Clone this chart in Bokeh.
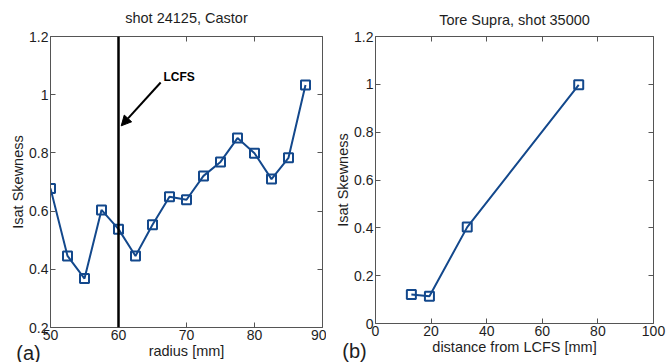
from bokeh.plotting import figure
from bokeh.layouts import row
from bokeh.models import (Range1d, LinearAxis, FixedTicker, CustomJSTickFormatter,
                          CustomLabelingPolicy, Span, Arrow, NormalHead, Label)
from bokeh.embed import file_html
from bokeh.resources import INLINE

# Castor, shot 24125: skewness of Isat versus probe radius
radius_mm = [50, 52.5, 55, 57.5, 60, 62.5, 65, 67.5, 70, 72.5, 75, 77.5, 80, 82.5, 85, 87.5]
castor_skew = [0.678, 0.446, 0.368, 0.604, 0.538, 0.446, 0.553, 0.649, 0.639,
               0.721, 0.769, 0.851, 0.799, 0.710, 0.783, 1.033]
lcfs_radius = 60

# Tore Supra, shot 35000: skewness versus distance from the LCFS
dist_mm = [12.9, 19.4, 33.0, 73.1]
ts_skew = [0.121, 0.114, 0.403, 0.998]

castor_xticks = [50, 60, 70, 80, 90]
castor_yticks = [0.2, 0.4, 0.6, 0.8, 1.0, 1.2]
ts_xticks = [0, 20, 40, 60, 80, 100]
ts_yticks = [0, 0.2, 0.4, 0.6, 0.8, 1.0, 1.2]

FONT = "Liberation Sans"
BLUE = "#13488c"
SPINE = "#555555"
TXT = "#1e1e1e"

yfmt = CustomJSTickFormatter(code="return (Math.round(tick*10)/10).toString();")
# mirrored axes carry ticks only
no_labels = CustomLabelingPolicy(code="""
    for (const i of indices) { indices.unset(i) }
    return indices
""")


def style_axis(ax, labels=True):
    ax.axis_line_color = SPINE
    ax.major_tick_line_color = SPINE
    ax.major_tick_in = 5
    ax.major_tick_out = 0
    ax.minor_tick_line_color = None
    ax.axis_label_text_font = FONT
    ax.axis_label_text_font_style = "normal"
    ax.axis_label_text_font_size = "14.5px"
    ax.axis_label_text_color = TXT
    ax.major_label_text_font = FONT
    ax.major_label_text_color = TXT
    if labels:
        ax.major_label_text_font_size = "14px"
        ax.major_label_standoff = 2
    else:
        ax.major_label_text_font_size = "1px"
        ax.major_label_standoff = 0
        ax.major_label_policy = no_labels
        ax.axis_label = None


def make_panel(title, xr, yr, xticks, yticks, xlabel, frame, border, title_standoff):
    p = figure(output_backend="svg", toolbar_location=None,
               x_range=Range1d(*xr), y_range=Range1d(*yr),
               frame_width=frame[0], frame_height=frame[1],
               min_border_left=border[0], min_border_right=border[1],
               min_border_top=border[2], min_border_bottom=border[3])
    p.title.text = title
    p.title.align = "center"
    p.title.text_font = FONT
    p.title.text_font_style = "normal"
    p.title.text_font_size = "14.5px"
    p.title.text_color = TXT
    p.title.standoff = title_standoff
    p.grid.visible = False
    p.outline_line_color = None
    p.background_fill_color = "white"
    p.border_fill_color = "white"

    p.xaxis.ticker = FixedTicker(ticks=xticks)
    p.yaxis.ticker = FixedTicker(ticks=yticks)
    p.yaxis.formatter = yfmt
    p.xaxis.axis_label = xlabel
    p.yaxis.axis_label = "Isat Skewness"
    p.xaxis.axis_label_standoff = 0
    p.yaxis.axis_label_standoff = 0
    style_axis(p.xaxis[0])
    style_axis(p.yaxis[0])

    top = LinearAxis(ticker=FixedTicker(ticks=xticks))
    right = LinearAxis(ticker=FixedTicker(ticks=yticks))
    style_axis(top, labels=False)
    style_axis(right, labels=False)
    p.add_layout(top, "above")
    p.add_layout(right, "right")
    return p


def panel_tag(text, dx, dy):
    # lives in the bottom side panel so it is not clipped to the plot frame;
    # offsets are measured from the panel's left edge and the canvas bottom
    return Label(x=dx, y=dy, x_units="screen", y_units="screen", text=text,
                 text_font=FONT, text_font_size="20px", text_align="center",
                 text_baseline="middle", text_color=TXT)


# (a) Castor
pa = make_panel("shot 24125, Castor", (50, 90), (0.2, 1.2), castor_xticks, castor_yticks,
                "radius [mm]", frame=(272, 291), border=(50, 0, 34, 37), title_standoff=13)
pa.add_layout(Span(location=lcfs_radius, dimension="height", line_color="black", line_width=2.5))
pa.add_layout(Arrow(end=NormalHead(size=10, fill_color="black", line_color="black"),
                    x_start=66.2, y_start=1.042, x_end=60.4, y_end=0.893,
                    line_color="black", line_width=2))
pa.add_layout(Label(x=66.6, y=1.06, text="LCFS", text_font=FONT, text_font_style="bold",
                    text_font_size="12px", text_baseline="middle", text_color="black"))
pa.line(radius_mm, castor_skew, line_color=BLUE, line_width=2)
pa.scatter(radius_mm, castor_skew, marker="square", size=9, fill_color=None,
           line_color=BLUE, line_width=2)
pa.add_layout(panel_tag("(a)", -22, 31), "below")

# (b) Tore Supra
pb = make_panel("Tore Supra, shot 35000", (0, 100), (0, 1.2), ts_xticks, ts_yticks,
                "distance from LCFS [mm]", frame=(278, 287), border=(49, 18, 36, 39),
                title_standoff=10)
pb.line(dist_mm, ts_skew, line_color=BLUE, line_width=2)
pb.scatter(dist_mm, ts_skew, marker="square", size=9, fill_color=None,
           line_color=BLUE, line_width=2)
pb.add_layout(panel_tag("(b)", -21, 29), "below")

layout = row(pa, pb)
open("out.html", "w").write(file_html(layout, INLINE))
